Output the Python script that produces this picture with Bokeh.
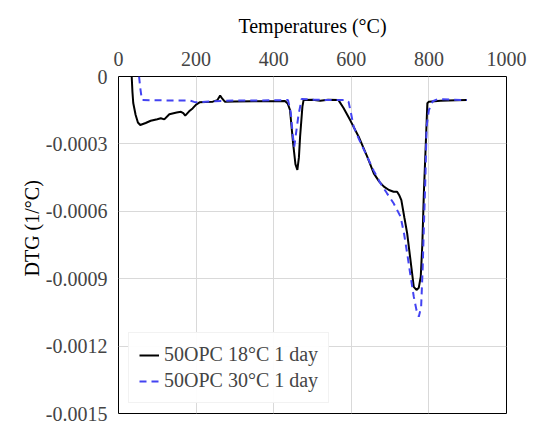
from bokeh.plotting import figure
from bokeh.models import FixedTicker, Legend, LegendItem, Range1d, Title
from bokeh.embed import file_html
from bokeh.resources import INLINE

# DTG curves of 50OPC paste, 1 day of curing at two temperatures
temp_18 = [34, 36, 38, 44, 50, 56, 70, 83, 100, 109, 118, 131, 150, 161, 167, 172,
           182, 191, 200, 209, 225, 243, 255, 262, 268, 274, 300, 350, 400, 429,
           436, 442, 450, 456, 461, 465, 468, 474, 477, 500, 520, 540, 567, 580,
           597, 619, 641, 658, 672, 684, 697, 709, 718, 724, 729, 737, 744, 752,
           761, 768, 774, 779, 783, 787, 792, 796, 800, 830, 870, 898]
dtg_18 = [0.0, -0.00007, -0.000118, -0.00017, -0.000205, -0.000216, -0.000207,
          -0.000197, -0.00019, -0.000186, -0.000191, -0.000168, -0.00016,
          -0.000157, -0.000163, -0.000174, -0.000155, -0.000142, -0.000125,
          -0.000115, -0.000113, -0.000112, -0.000105, -0.000085, -0.0001,
          -0.000112, -0.000111, -0.00011, -0.00011, -0.000109, -0.00012,
          -0.000149, -0.000297, -0.00039, -0.000416, -0.00036, -0.000268,
          -0.000134, -0.000105, -0.000104, -0.000108, -0.000104, -0.000105,
          -0.00014, -0.000194, -0.000268, -0.000357, -0.000431, -0.000468,
          -0.00049, -0.000505, -0.000513, -0.000513, -0.00053, -0.00055,
          -0.00063, -0.000698, -0.00081, -0.000936, -0.00095, -0.00094,
          -0.000891, -0.00075, -0.00052, -0.0003, -0.000119, -0.000112,
          -0.000108, -0.000106, -0.000105]

temp_30 = [53, 56, 60, 62, 100, 150, 183, 195, 209, 225, 243, 300, 400, 437, 444,
           449, 453, 457, 464, 472, 500, 550, 576, 586, 593, 600, 606, 620, 641,
           658, 675, 692, 709, 727, 736, 744, 752, 761, 768, 774, 780, 784, 787,
           791, 794, 800, 810, 822, 860, 898]
dtg_30 = [0.0, -0.00005, -0.0001, -0.000105, -0.000106, -0.000107, -0.000107,
          -0.000113, -0.000115, -0.000112, -0.00011, -0.000107, -0.000106,
          -0.000105, -0.00016, -0.00026, -0.000312, -0.00026, -0.00017, -0.0001,
          -0.000103, -0.000105, -0.000105, -0.000104, -0.000113, -0.00017,
          -0.000223, -0.00028, -0.000357, -0.00042, -0.000475, -0.00052,
          -0.000564, -0.000624, -0.0007, -0.000787, -0.00088, -0.00098,
          -0.00104, -0.001069, -0.001025, -0.00085, -0.000669, -0.00045,
          -0.000223, -0.000149, -0.00011, -0.000101, -0.000103, -0.000105]

x_ticks = [0, 200, 400, 600, 800, 1000]
y_ticks = [0, -0.0003, -0.0006, -0.0009, -0.0012, -0.0015]
y_tick_labels = ["0", "-0.0003", "-0.0006", "-0.0009", "-0.0012", "-0.0015"]
series_names = ["50OPC 18°C 1 day", "50OPC 30°C 1 day"]

FONT = "'Liberation Serif'"

p = figure(width=535, height=424, output_backend="svg", toolbar_location=None,
           x_axis_location="above",
           x_range=Range1d(0, 1000), y_range=Range1d(-0.0015, 0),
           min_border_left=118, min_border_right=29,
           min_border_top=76, min_border_bottom=11)

p.outline_line_color = "black"
p.outline_line_width = 1
p.background_fill_color = "white"
p.border_fill_color = "white"

# y-axis title, as a vertical title panel left of the tick labels
p.add_layout(Title(text="DTG (1/°C)", align="left", offset=137,
                   text_font=FONT, text_font_size="20px",
                   text_font_style="normal", text_color="black",
                   standoff=0), "left")

# axes
xa = p.xaxis[0]
xa.ticker = FixedTicker(ticks=x_ticks)
xa.axis_label = "Temperatures (°C)"
xa.axis_label_text_font = FONT
xa.axis_label_text_font_style = "normal"
xa.axis_label_text_font_size = "20px"
xa.axis_label_text_color = "black"
xa.axis_label_standoff = 12
xa.major_label_text_font = FONT
xa.major_label_text_font_size = "20px"

ya = p.yaxis[0]
ya.ticker = FixedTicker(ticks=y_ticks)
ya.major_label_overrides = dict(zip(y_ticks, y_tick_labels))
ya.major_label_text_font = FONT
ya.major_label_text_font_size = "20px"

for ax in (xa, ya):
    ax.axis_line_color = None
    ax.major_tick_line_color = None
    ax.minor_tick_line_color = None

p.xgrid.ticker = FixedTicker(ticks=x_ticks)
p.ygrid.ticker = FixedTicker(ticks=y_ticks)
for g in (p.xgrid[0], p.ygrid[0]):
    g.grid_line_color = "#d9d9d9"
    g.grid_line_width = 1

# curves
r18 = p.line(temp_18, dtg_18, line_color="black", line_width=2)
r30 = p.line(temp_30, dtg_30, line_color="#4343f2", line_width=2,
             line_dash="7 5")

legend = Legend(items=[LegendItem(label=series_names[0], renderers=[r18]),
                       LegendItem(label=series_names[1], renderers=[r30])],
                location="bottom_left",
                label_text_font=FONT, label_text_font_size="20px")
p.add_layout(legend)

open("out.html", "w").write(file_html(p, INLINE))
